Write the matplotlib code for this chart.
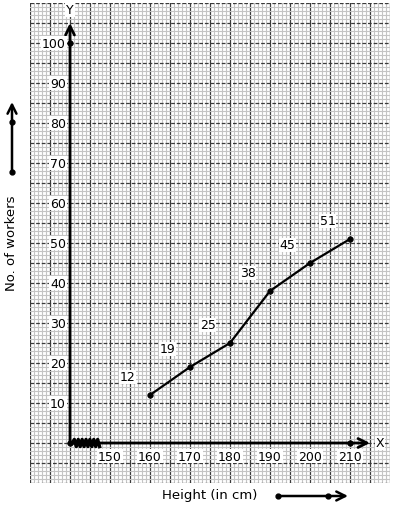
import matplotlib

matplotlib.use("Agg")

import matplotlib.pyplot as plt
import numpy as np
from matplotlib.ticker import MultipleLocator

heights = [160, 170, 180, 190, 200, 210]
workers = [12, 19, 25, 38, 45, 51]
x_ticks = [150, 160, 170, 180, 190, 200, 210]
y_ticks = [10, 20, 30, 40, 50, 60, 70, 80, 90, 100]

W, H = 394, 510


def fig_xy(px, py):
    # pixel position (top-left origin) -> figure fraction
    return px / W, 1 - py / H


fig = plt.figure(figsize=(W / 100, H / 100), dpi=100)
ax = fig.add_axes([30 / W, 26 / H, 360 / W, 480 / H])
ax.set_xlim(130, 220)
ax.set_ylim(-10, 110)

# graph paper
ax.xaxis.set_minor_locator(MultipleLocator(1))
ax.yaxis.set_minor_locator(MultipleLocator(1))
ax.xaxis.set_major_locator(MultipleLocator(5))
ax.yaxis.set_major_locator(MultipleLocator(5))
ax.grid(which="minor", color="#c4c4c4", lw=0.8)
ax.grid(which="major", axis="x", color="#3a3a3a", lw=0.9, ls="-")
ax.grid(which="major", axis="y", color="#3a3a3a", lw=0.9, ls=(0, (3, 1.5)))
ax.set_axisbelow(True)
ax.tick_params(which="both", length=0, labelleft=False, labelbottom=False)
for s in ax.spines.values():
    s.set_visible(False)

# axes with arrows
ax.annotate("", xy=(215, 0), xytext=(140, 0),
            arrowprops=dict(arrowstyle="->", lw=2, color="black", mutation_scale=16, shrinkA=0, shrinkB=0))
ax.annotate("", xy=(140, 105), xytext=(140, 0),
            arrowprops=dict(arrowstyle="->", lw=2, color="black", mutation_scale=16, shrinkA=0, shrinkB=0))
ax.plot([140, 140, 210], [100, 0, 0], "o", color="black", ms=3.5, ls="none")
ax.text(217.5, 0, "X", fontsize=9, ha="center", va="center",
        bbox=dict(facecolor="white", edgecolor="none", pad=0.5))
ax.text(140, 108.3, "Y", fontsize=9, ha="center", va="center",
        bbox=dict(facecolor="white", edgecolor="none", pad=0.5))

# axis break zigzag
zx = np.linspace(140.6, 147.4, 15)
zy = np.where(np.arange(15) % 2 == 0, -0.9, 0.9)
zy[0] = 0
ax.plot(zx, zy, color="black", lw=2.4, solid_joinstyle="round")

# tick labels
for t in x_ticks:
    ax.text(t, -3.3, str(t), fontsize=9, ha="center", va="center",
            bbox=dict(facecolor="white", edgecolor="none", pad=0.5))
for t in y_ticks:
    ax.text(139, t, str(t), fontsize=9, ha="right", va="center",
            bbox=dict(facecolor="white", edgecolor="none", pad=0.5))

# data
ax.plot(heights, workers, color="black", lw=1.6, marker="o", ms=3.5)
for x, y in zip(heights, workers):
    ax.annotate(str(y), (x, y), xytext=(-16, 13), textcoords="offset points",
                fontsize=9, ha="center", va="center",
                bbox=dict(facecolor="white", edgecolor="none", pad=0.5))

# outer labels and arrows
fig.text(*fig_xy(210, 496), "Height (in cm)", fontsize=9.5, ha="center", va="center")
fig.text(*fig_xy(12, 243), "No. of workers", fontsize=9.5, ha="center", va="center", rotation=90)

ax.annotate("", xy=fig_xy(348, 497), xycoords="figure fraction", xytext=fig_xy(278, 497),
            textcoords="figure fraction",
            arrowprops=dict(arrowstyle="->", lw=1.8, color="black", mutation_scale=16, shrinkA=0, shrinkB=0))
ax.annotate("", xy=fig_xy(12, 103), xycoords="figure fraction", xytext=fig_xy(12, 173),
            textcoords="figure fraction",
            arrowprops=dict(arrowstyle="->", lw=1.8, color="black", mutation_scale=16, shrinkA=0, shrinkB=0))
for px, py in [(278, 497), (328, 497), (12, 173), (12, 123)]:
    fig.add_artist(plt.Line2D([px / W], [1 - py / H], marker="o", ms=3.5, color="black",
                              transform=fig.transFigure))

fig.savefig("out.png", dpi=100)
